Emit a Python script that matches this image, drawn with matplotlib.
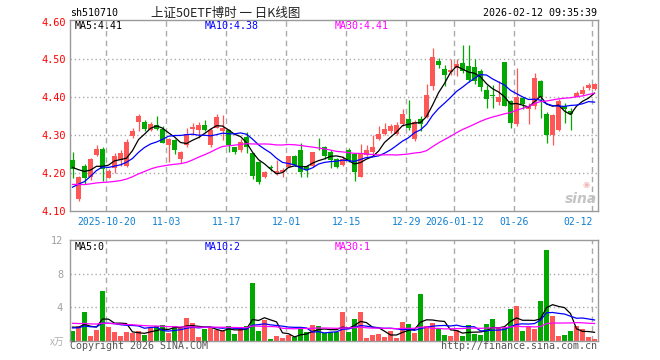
import numpy as np
import pandas as pd
import matplotlib
matplotlib.use('Agg')
import matplotlib.pyplot as plt

# daily bars 2025-10-10 .. 2026-02-12
opens = [4.235, 4.132, 4.218, 4.190, 4.248, 4.264, 4.188, 4.213, 4.235, 4.220,
         4.298, 4.336, 4.336, 4.314, 4.328, 4.316, 4.274, 4.287, 4.238, 4.274,
         4.316, 4.314, 4.328, 4.273, 4.320, 4.312, 4.314, 4.268, 4.260, 4.294,
         4.253, 4.229, 4.191, 4.215, 4.200, 4.202, 4.217, 4.246, 4.260, 4.219,
         4.219, 4.277, 4.270, 4.257, 4.238, 4.222, 4.261, 4.250, 4.191, 4.248,
         4.255, 4.290, 4.303, 4.310, 4.303, 4.329, 4.343, 4.290, 4.343, 4.347,
         4.429, 4.497, 4.476, 4.466, 4.478, 4.491, 4.482, 4.480, 4.469, 4.418,
         4.405, 4.387, 4.492, 4.389, 4.329, 4.398, 4.370, 4.376, 4.442, 4.357,
         4.301, 4.313, 4.376, 4.365, 4.402, 4.409, 4.425, 4.422]
highs = [4.257, 4.192, 4.224, 4.240, 4.275, 4.270, 4.210, 4.253, 4.260, 4.290,
         4.320, 4.357, 4.340, 4.335, 4.352, 4.323, 4.292, 4.290, 4.258, 4.320,
         4.332, 4.336, 4.340, 4.318, 4.355, 4.354, 4.317, 4.270, 4.290, 4.308,
         4.253, 4.232, 4.205, 4.222, 4.235, 4.213, 4.246, 4.248, 4.279, 4.222,
         4.257, 4.292, 4.272, 4.260, 4.240, 4.246, 4.265, 4.252, 4.276, 4.275,
         4.301, 4.323, 4.332, 4.330, 4.334, 4.370, 4.394, 4.340, 4.350, 4.436,
         4.529, 4.505, 4.486, 4.500, 4.500, 4.537, 4.537, 4.500, 4.474, 4.433,
         4.433, 4.442, 4.492, 4.392, 4.478, 4.400, 4.385, 4.465, 4.446, 4.360,
         4.356, 4.395, 4.385, 4.372, 4.416, 4.429, 4.438, 4.437]
lows = [4.188, 4.127, 4.171, 4.182, 4.244, 4.180, 4.186, 4.200, 4.220, 4.216,
        4.292, 4.310, 4.310, 4.310, 4.314, 4.279, 4.230, 4.250, 4.226, 4.270,
        4.300, 4.292, 4.310, 4.270, 4.318, 4.288, 4.256, 4.250, 4.255, 4.253,
        4.185, 4.171, 4.188, 4.206, 4.195, 4.191, 4.215, 4.220, 4.191, 4.191,
        4.217, 4.262, 4.238, 4.213, 4.213, 4.220, 4.228, 4.180, 4.190, 4.245,
        4.250, 4.288, 4.300, 4.305, 4.300, 4.325, 4.315, 4.285, 4.312, 4.345,
        4.420, 4.478, 4.429, 4.460, 4.455, 4.465, 4.440, 4.435, 4.416, 4.372,
        4.372, 4.380, 4.378, 4.319, 4.325, 4.370, 4.330, 4.370, 4.345, 4.279,
        4.275, 4.310, 4.332, 4.314, 4.400, 4.405, 4.420, 4.420]
closes = [4.211, 4.190, 4.187, 4.238, 4.264, 4.210, 4.206, 4.244, 4.254, 4.283,
          4.310, 4.351, 4.316, 4.330, 4.317, 4.279, 4.290, 4.261, 4.257, 4.303,
          4.322, 4.326, 4.314, 4.314, 4.349, 4.318, 4.275, 4.257, 4.283, 4.268,
          4.193, 4.176, 4.202, 4.214, 4.206, 4.209, 4.244, 4.222, 4.202, 4.209,
          4.255, 4.276, 4.246, 4.235, 4.215, 4.238, 4.231, 4.202, 4.253, 4.261,
          4.270, 4.303, 4.317, 4.323, 4.328, 4.356, 4.320, 4.334, 4.329, 4.407,
          4.506, 4.484, 4.458, 4.473, 4.488, 4.469, 4.445, 4.442, 4.427, 4.396,
          4.404, 4.402, 4.378, 4.332, 4.402, 4.383, 4.376, 4.450, 4.402, 4.301,
          4.354, 4.391, 4.370, 4.357, 4.411, 4.418, 4.433, 4.436]
# volume, 万手
volumes = [1.19, 1.78, 3.44, 0.59, 1.31, 5.94, 1.70, 1.07, 0.59, 1.07,
           0.99, 1.19, 0.71, 1.50, 1.78, 1.90, 0.99, 1.78, 1.50, 2.77,
           2.14, 0.51, 1.43, 1.50, 1.31, 1.19, 1.78, 0.83, 1.50, 1.78,
           6.89, 1.19, 2.46, 0.24, 0.59, 0.36, 0.71, 0.51, 1.50, 1.07,
           1.90, 1.78, 0.91, 1.07, 1.07, 3.44, 1.07, 2.61, 3.44, 0.36,
           0.71, 0.83, 0.48, 1.19, 0.36, 2.26, 2.02, 0.99, 5.58, 1.74,
           2.14, 1.46, 0.71, 0.59, 1.34, 0.59, 1.90, 0.83, 0.71, 2.02,
           2.61, 1.62, 1.54, 3.80, 4.16, 1.19, 1.62, 1.43, 4.75, 10.81,
           2.97, 0.59, 0.71, 1.19, 1.78, 1.46, 0.48, 0.24]

# the 29 sessions before the window, estimated from where the MA lines start
prev_closes = [4.19, 4.20, 4.18, 4.19, 4.17, 4.18, 4.19, 4.19, 4.16, 4.13,
               4.12, 4.13, 4.135, 4.17, 4.19, 4.21, 4.20, 4.21, 4.20, 4.13,
               4.11, 4.12, 4.10, 4.11, 4.114, 4.22, 4.21, 4.22, 4.214]
prev_volumes = [2.5, 3.1, 2.2, 1.9, 2.8, 2.4, 2.0, 2.6, 2.3, 1.8,
                2.9, 2.2, 2.5, 2.1, 2.7, 2.3, 2.0, 2.6, 2.4, 2.2,
                1.6, 1.3, 1.5, 1.4, 1.45, 1.9, 1.6, 1.8, 1.76]

date_idx = [6, 16, 26, 36, 46, 56, 64, 74, 87]
date_labels = ['2025-10-20', '11-03', '11-17', '12-01', '12-15',
               '12-29', '2026-01-12', '01-26', '02-12']

RED = '#ff5656'
GREEN = '#00a800'
GRID = '#aaaaaa'
MONO = 'DejaVu Sans Mono'
CJK = ['Noto Sans CJK SC', 'DejaVu Sans']

plt.rcParams['lines.scale_dashes'] = False

W, H = 660, 360


def px(x, y):
    return x / W, 1 - y / H


o = np.array(opens)
h = np.array(highs)
l = np.array(lows)
c = np.array(closes)
v = np.array(volumes)
n = len(c)
x = np.arange(n)
cols = np.where(c > o, RED, GREEN)

close_s = pd.Series(prev_closes + closes)
vol_s = pd.Series(prev_volumes + volumes)
k = len(prev_closes)
ma = {p: close_s.rolling(p).mean().iloc[k:].values for p in (5, 10, 30)}
vma = {p: vol_s.rolling(p).mean().iloc[k:].values for p in (5, 10, 30)}
ma_cols = {5: 'black', 10: '#0000ff', 30: '#ff00ff'}

fig = plt.figure(figsize=(W / 100, H / 100), dpi=100)
ax = fig.add_axes([70 / W, 149 / H, 528 / W, 191 / H])
axv = fig.add_axes([70 / W, 19 / H, 528 / W, 101 / H])

xlim = (-2.5 / 6, n - 0.42)
grid_x = [i - 0.35 for i in date_idx]

for a in (ax, axv):
    a.set_xlim(*xlim)
    for s in a.spines.values():
        s.set_color('#9a9a9a')
        s.set_linewidth(1)
    for gx in grid_x:
        a.axvline(gx, color=GRID, lw=1, linestyle=(0, (4, 3)), zorder=0)
    a.set_xticks([])

# candles
ax.vlines(x, l, h, colors=cols, lw=0.9, zorder=2)
body = np.maximum(np.abs(c - o), 0.0018)
ax.bar(x, body, bottom=np.minimum(o, c), width=0.82, color=cols, linewidth=0, zorder=3)
for p in (5, 10, 30):
    ax.plot(x, ma[p], color=ma_cols[p], lw=0.9, zorder=4)

ax.set_ylim(4.10, 4.604)
yt = [4.10, 4.20, 4.30, 4.40, 4.50, 4.60]
ax.set_yticks(yt)
ax.set_yticklabels([f'{t:.2f}' for t in yt], fontfamily=MONO, fontsize=7.4, color='red')
ax.tick_params(axis='y', length=0, pad=3)
for t in yt[1:-1]:
    ax.axhline(t, color=GRID, lw=1, linestyle=(0, (1, 2)), zorder=0)

# date labels
for gx, lab, i in zip(grid_x, date_labels, date_idx):
    ha = 'right' if i == date_idx[-1] else 'center'
    ax.text(gx, -0.055, lab, transform=ax.get_xaxis_transform(), ha=ha, va='center',
            fontfamily=MONO, fontsize=7, color='#0f7fd0')

# volume
axv.bar(x, v, width=0.82, color=cols, linewidth=0, zorder=2)
for p in (5, 10, 30):
    axv.plot(x, vma[p], color=ma_cols[p], lw=0.9, zorder=3)
axv.set_ylim(0, 12)
axv.set_yticks([4, 8, 12])
axv.set_yticklabels(['4', '8', '12'], fontfamily=MONO, fontsize=7.4, color='#a0a0a0')
axv.tick_params(axis='y', length=0, pad=5)
for t in (4, 8):
    axv.axhline(t, color=GRID, lw=1, linestyle=(0, (1, 2)), zorder=0)

# header / legends
fig.text(*px(70, 13), 'sh510710', fontfamily=MONO, fontsize=7.2, va='center', ha='left')
fig.text(*px(151, 13), '上证50ETF博时 一 日K线图', family=CJK, fontsize=9, va='center',
         ha='left', color='#222222')
fig.text(*px(597, 13), '2026-02-12 09:35:39', fontfamily=MONO, fontsize=7.2, va='center', ha='right')

fig.text(*px(75, 26), 'MA5:4.41', fontfamily=MONO, fontsize=7.2, va='center', color='black')
fig.text(*px(205, 26), 'MA10:4.38', fontfamily=MONO, fontsize=7.2, va='center', color='#0000ff')
fig.text(*px(335, 26), 'MA30:4.41', fontfamily=MONO, fontsize=7.2, va='center', color='#ff00ff')

fig.text(*px(75, 247), 'MA5:0', fontfamily=MONO, fontsize=7.2, va='center', color='black')
fig.text(*px(205, 247), 'MA10:2', fontfamily=MONO, fontsize=7.2, va='center', color='#0000ff')
fig.text(*px(335, 247), 'MA30:1', fontfamily=MONO, fontsize=7.2, va='center', color='#ff00ff')

fig.text(*px(64, 342), 'x万', family=CJK, fontsize=7, va='center', ha='right',
         color='#b0b0b0', style='italic')
fig.text(*px(70, 346), 'Copyright 2026 SINA.COM', fontfamily=MONO, fontsize=7.2,
         va='center', ha='left', color='#555555')
fig.text(*px(597, 346), 'http://finance.sina.com.cn', fontfamily=MONO, fontsize=7.2,
         va='center', ha='right', color='#555555')

# sina watermark
fig.text(*px(581, 199), 'sina', fontsize=10, style='italic', weight='bold',
         color='#c4c4c4', ha='center', va='center')
fig.text(*px(586, 184), '◉', fontsize=6, color='#f0b8b8', ha='center', va='center')

fig.savefig('out.png', dpi=100)
